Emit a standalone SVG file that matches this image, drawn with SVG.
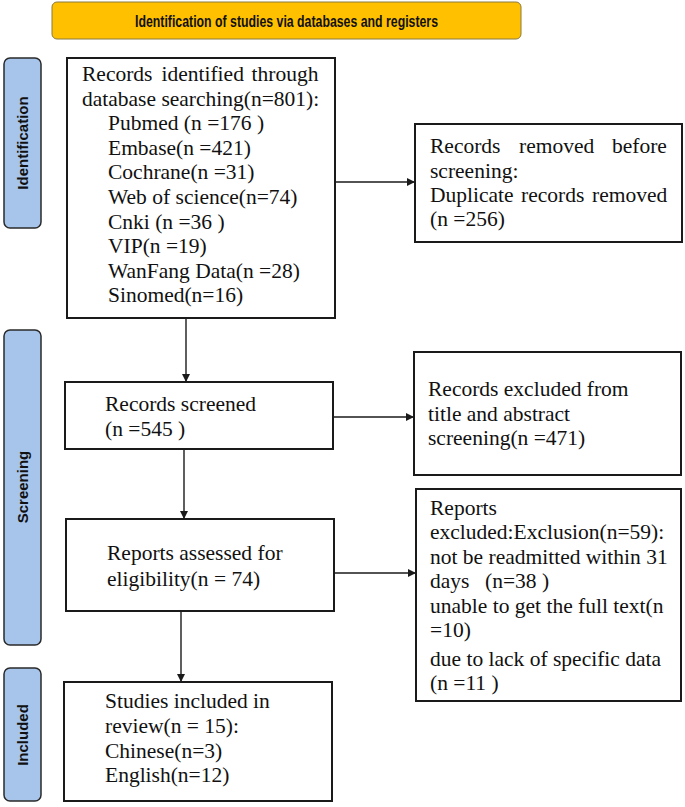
<svg xmlns="http://www.w3.org/2000/svg" width="685" height="807" viewBox="0 0 685 807">
<defs>
<style>
.box{fill:#fff;stroke:#1a1a1a;stroke-width:2}
.side{fill:#a7c5eb;stroke:#2a2a2a;stroke-width:1.5}
.t{font-family:"Liberation Serif","Times New Roman",serif;font-size:21.5px;fill:#111}
.s{font-family:"Liberation Sans",Arial,sans-serif;font-weight:bold;font-size:15px;fill:#111;text-anchor:middle}
.c{stroke:#1a1a1a;stroke-width:1.4;fill:none;marker-end:url(#ah)}
</style>
<marker id="ah" viewBox="0 0 10 10" refX="10" refY="5" markerWidth="8" markerHeight="8" markerUnits="userSpaceOnUse" orient="auto">
<path d="M0,0 L10,5 L0,10 z" fill="#1a1a1a"/>
</marker>
</defs>
<rect width="685" height="807" fill="#fff"/>
<g id="banner">
<rect x="52" y="2" width="469" height="37" rx="5" fill="#ffc000" stroke="#8a7a40" stroke-width="1"/>
<text x="286.5" y="26.5" font-family="'Liberation Sans',Arial,sans-serif" font-weight="bold" font-size="17" text-anchor="middle" textLength="303" lengthAdjust="spacingAndGlyphs" fill="#111">Identification of studies via databases and registers</text>
</g>
<g id="side-identification">
<rect class="side" x="4" y="58" width="37" height="170" rx="6"/>
<text class="s" transform="translate(28,143) rotate(-90)">Identification</text>
</g>
<g id="side-screening">
<rect class="side" x="4" y="330" width="37" height="315" rx="6"/>
<text class="s" transform="translate(28,487) rotate(-90)">Screening</text>
</g>
<g id="side-included">
<rect class="side" x="4" y="668" width="37" height="133" rx="6"/>
<text class="s" transform="translate(28,735) rotate(-90)">Included</text>
</g>
<g id="connectors">
<line class="c" x1="335" y1="182" x2="415" y2="182"/>
<line class="c" x1="186" y1="318" x2="186" y2="382"/>
<line class="c" x1="333" y1="417" x2="414" y2="417"/>
<line class="c" x1="184" y1="449" x2="184" y2="519"/>
<line class="c" x1="334" y1="573" x2="416" y2="573"/>
<line class="c" x1="181" y1="611" x2="181" y2="682"/>
</g>
<g id="n-identified">
<rect class="box" x="67" y="58" width="268" height="260"/>
<text class="t" y="81"><tspan x="82">Records</tspan><tspan x="161.5">identified</tspan><tspan x="251.5">through</tspan></text>
<text class="t" x="82" y="105.6">database searching(n=801):</text>
<text class="t" x="108" y="130.2">Pubmed (n =176 )</text>
<text class="t" x="108" y="154.8">Embase(n =421)</text>
<text class="t" x="108" y="179.4">Cochrane(n =31)</text>
<text class="t" x="108" y="204">Web of science(n=74)</text>
<text class="t" x="108" y="228.6">Cnki (n =36 )</text>
<text class="t" x="108" y="253.2">VIP(n =19)</text>
<text class="t" x="108" y="277.8">WanFang Data(n =28)</text>
<text class="t" x="108" y="302.4">Sinomed(n=16)</text>
</g>
<g id="n-removed">
<rect class="box" x="415" y="124" width="267" height="118"/>
<text class="t" y="153"><tspan x="430">Records</tspan><tspan x="519">removed</tspan><tspan x="612">before</tspan></text>
<text class="t" x="430" y="177.5">screening:</text>
<text class="t" y="202"><tspan x="430">Duplicate</tspan><tspan x="521">records</tspan><tspan x="592">removed</tspan></text>
<text class="t" x="430" y="226">(n =256)</text>
</g>
<g id="n-screened">
<rect class="box" x="65" y="382" width="268" height="67"/>
<text class="t" x="105" y="411">Records screened</text>
<text class="t" x="105" y="436">(n =545 )</text>
</g>
<g id="n-excluded-title">
<rect class="box" x="414" y="352" width="267" height="123"/>
<text class="t" x="428" y="396">Records excluded from</text>
<text class="t" x="428" y="420.5">title and abstract</text>
<text class="t" x="428" y="445">screening(n =471)</text>
</g>
<g id="n-assessed">
<rect class="box" x="66" y="519" width="268" height="92"/>
<text class="t" x="107" y="560">Reports assessed for</text>
<text class="t" x="107" y="586">eligibility(n = 74)</text>
</g>
<g id="n-excluded-reports">
<rect class="box" x="416" y="489" width="265" height="212"/>
<text class="t" x="430" y="515">Reports</text>
<text class="t" x="430" y="539">excluded:Exclusion(n=59):</text>
<text class="t" x="430" y="563.5">not be readmitted within 31</text>
<text class="t" y="588"><tspan x="430">days</tspan><tspan x="485">(n=38 )</tspan></text>
<text class="t" x="430" y="612.5">unable to get the full text(n</text>
<text class="t" x="430" y="637">=10)</text>
<text class="t" x="430" y="666">due to lack of specific data</text>
<text class="t" x="430" y="690">(n =11 )</text>
</g>
<g id="n-included">
<rect class="box" x="64" y="682" width="268" height="119"/>
<text class="t" x="105" y="708">Studies included in</text>
<text class="t" x="105" y="733">review(n = 15):</text>
<text class="t" x="105" y="757.5">Chinese(n=3)</text>
<text class="t" x="105" y="782">English(n=12)</text>
</g>
</svg>
